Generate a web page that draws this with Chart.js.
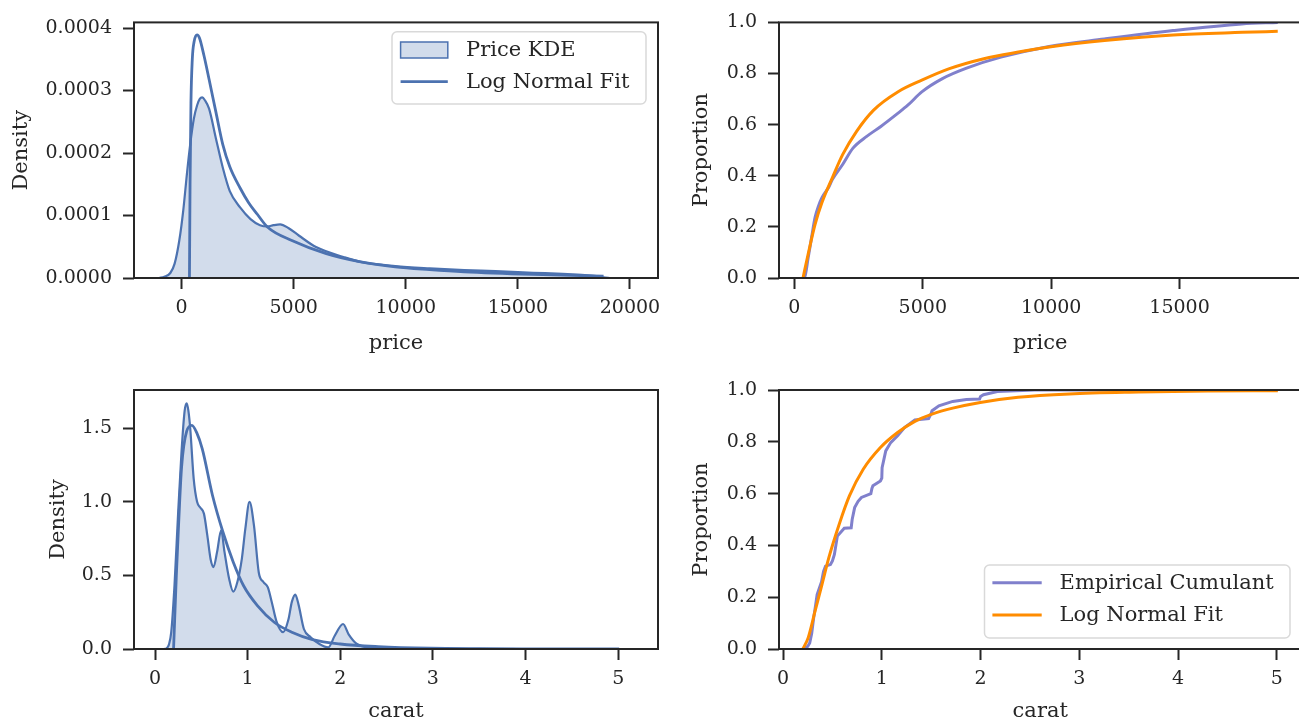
<!DOCTYPE html>
<html>
<head>
<meta charset="utf-8">
<script src="https://cdn.jsdelivr.net/npm/chart.js@4.4.1/dist/chart.umd.min.js"></script>
<style>
  html, body { margin: 0; padding: 0; background: #fff; overflow: hidden; }
  body { width: 1299px; height: 722px; position: relative; }
  .panel { position: absolute; }
</style>
</head>
<body>
<div class="panel" style="left:0;top:0;width:700px;height:361px"><canvas id="c1"></canvas></div>
<div class="panel" style="left:650px;top:0;width:670px;height:361px"><canvas id="c2"></canvas></div>
<div class="panel" style="left:0;top:361px;width:700px;height:366px"><canvas id="c3"></canvas></div>
<div class="panel" style="left:650px;top:361px;width:670px;height:366px"><canvas id="c4"></canvas></div>
<script>
// price density (KDE + log normal fit)
const priceKdeX = [-1000, -768, -500, -308, -100, 76, 250, 384, 550, 692, 820, 920, 1050, 1228, 1536, 1844, 2152, 2612, 3076, 3500, 3843, 4100, 4400, 4763, 5228, 5996, 7223, 7991, 9531, 11067, 12607, 14000, 15680, 17000, 17986, 18500, 18906, 19100];
const priceKdeY = [0, 0.000002, 0.000008, 0.000023, 0.00006, 0.000108, 0.00017, 0.000213, 0.000255, 0.000276, 0.000287, 0.000289, 0.000284, 0.000271, 0.000223, 0.000176, 0.000139, 0.000113, 0.0000943, 0.0000845, 0.0000825, 0.0000845, 0.0000858, 0.0000801, 0.000068, 0.0000495, 0.0000337, 0.0000258, 0.000019, 0.0000153, 0.0000126, 0.000011, 0.0000084, 0.0000065, 0.0000047, 0.000003, 0.0000005, 0];
const priceFitX = [353, 380, 420, 480, 560, 692, 800, 1000, 1228, 1536, 1844, 2152, 2612, 3000, 3380, 3843, 4920, 6455, 7991, 9531, 11067, 12607, 15680, 18823];
const priceFitY = [0, 0.00015, 0.00028, 0.00035, 0.000378, 0.000389, 0.000384, 0.000356, 0.000318, 0.000265, 0.000213, 0.000178, 0.000144, 0.00012, 0.000102, 0.0000811, 0.00006, 0.000039, 0.0000258, 0.0000179, 0.0000135, 0.00001, 0.0000058, 0.000003];

// price cumulative
const priceEcdfX = [326, 402, 537, 671, 805, 939, 1073, 1341, 1476, 1878, 2280, 2816, 3353, 4024, 4426, 4960, 5764, 6703, 8043, 9920, 12065, 14745, 17426, 18823];
const priceEcdfY = [0, 0.004, 0.08, 0.16, 0.237, 0.282, 0.314, 0.356, 0.385, 0.444, 0.508, 0.554, 0.592, 0.644, 0.677, 0.728, 0.78, 0.821, 0.864, 0.906, 0.935, 0.968, 0.994, 1.0];
const priceCdfX = [335, 536, 805, 1073, 1476, 1878, 2415, 3085, 4024, 4963, 6036, 7378, 8720, 10061, 12074, 14757, 17441, 18823];
const priceCdfY = [0, 0.094, 0.21, 0.295, 0.392, 0.4825, 0.573, 0.657, 0.728, 0.774, 0.819, 0.858, 0.884, 0.906, 0.929, 0.951, 0.961, 0.965];

// carat density
const caratKdeX = [0.10, 0.12, 0.15, 0.175, 0.21, 0.25, 0.286, 0.32, 0.342, 0.36, 0.38, 0.417, 0.454, 0.49, 0.528, 0.565, 0.60, 0.632, 0.67, 0.714, 0.75, 0.80, 0.845, 0.889, 0.9375, 0.975, 1.02, 1.068, 1.12, 1.17, 1.217, 1.26, 1.31, 1.384, 1.44, 1.477, 1.514, 1.55, 1.607, 1.68, 1.775, 1.87, 1.94, 2.03, 2.09, 2.18, 2.33, 2.6, 3.0, 4.0, 5.0];
const caratKdeY = [0, 0.003, 0.03, 0.114, 0.43, 0.93, 1.34, 1.62, 1.67, 1.62, 1.5, 1.16, 1.0, 0.96, 0.92, 0.77, 0.61, 0.557, 0.66, 0.807, 0.66, 0.477, 0.39, 0.455, 0.614, 0.818, 1.0, 0.84, 0.52, 0.455, 0.42, 0.32, 0.19, 0.114, 0.2, 0.32, 0.37, 0.30, 0.136, 0.08, 0.034, 0.011, 0.09, 0.17, 0.10, 0.034, 0.01, 0.003, 0.001, 0, 0];
const caratFitX = [0.2, 0.212, 0.23, 0.249, 0.286, 0.342, 0.398, 0.45, 0.51, 0.62, 0.733, 0.845, 0.956, 1.105, 1.29, 1.477, 1.7, 2.0, 2.41, 2.97, 3.5, 4.0, 5.01];
const caratFitY = [0, 0.2, 0.5, 0.77, 1.23, 1.48, 1.52, 1.47, 1.36, 1.045, 0.795, 0.59, 0.43, 0.295, 0.18, 0.114, 0.064, 0.034, 0.016, 0.005, 0.002, 0.001, 0];

// carat cumulative
const caratEcdfX = [0.2, 0.25, 0.27, 0.29, 0.31, 0.33, 0.345, 0.39, 0.41, 0.43, 0.48, 0.5, 0.52, 0.55, 0.62, 0.69, 0.70, 0.725, 0.76, 0.794, 0.889, 0.90, 0.91, 0.986, 1.0, 1.003, 1.04, 1.09, 1.16, 1.23, 1.335, 1.474, 1.5, 1.509, 1.578, 1.718, 1.857, 1.99, 2.0, 2.03, 2.17, 2.55, 5.01];
const caratEcdfY = [0, 0.01, 0.023, 0.06, 0.12, 0.17, 0.21, 0.26, 0.30, 0.32, 0.326, 0.34, 0.365, 0.436, 0.466, 0.468, 0.50, 0.546, 0.57, 0.585, 0.6, 0.62, 0.63, 0.649, 0.66, 0.70, 0.765, 0.797, 0.823, 0.855, 0.884, 0.89, 0.91, 0.92, 0.939, 0.956, 0.963, 0.965, 0.975, 0.982, 0.994, 1.0, 1.0];
const caratCdfX = [0.2, 0.254, 0.324, 0.394, 0.463, 0.568, 0.672, 0.812, 0.986, 1.16, 1.335, 1.509, 1.718, 1.997, 2.38, 2.9, 3.6, 4.3, 5.01];
const caratCdfY = [0, 0.043, 0.146, 0.249, 0.352, 0.481, 0.591, 0.694, 0.778, 0.836, 0.879, 0.907, 0.93, 0.952, 0.972, 0.985, 0.992, 0.996, 0.997];

// tick labels
const priceTicksLeft = [0, 5000, 10000, 15000, 20000];
const priceTicksRight = [0, 5000, 10000, 15000];
const caratTicks = [0, 1, 2, 3, 4, 5];
const priceDensityTicks = [0, 0.0001, 0.0002, 0.0003, 0.0004];
const caratDensityTicks = [0, 0.5, 1.0, 1.5];
const proportionTicks = [0, 0.2, 0.4, 0.6, 0.8, 1.0];

const INK = '#262626';
const BLUE = '#4c72b0';
const PURPLE = '#8080cc';
const ORANGE = '#ff8c00';
const FONT = 'DejaVu Serif';

Chart.defaults.font.family = FONT;
Chart.defaults.color = INK;

const pts = (xs, ys) => xs.map((x, i) => ({ x: x, y: ys[i] }));

// box round each axes
const spines = {
  id: 'spines',
  afterDraw(chart) {
    const { ctx, chartArea: a } = chart;
    ctx.save();
    ctx.strokeStyle = INK;
    ctx.lineWidth = 2;
    ctx.strokeRect(a.left, a.top, a.right - a.left, a.bottom - a.top);
    ctx.restore();
  }
};

// legend drawn inside the plot, matplotlib style
const boxLegend = {
  id: 'boxLegend',
  afterDatasetsDraw(chart, args, o) {
    if (!o.items) return;
    const ctx = chart.ctx;
    ctx.save();
    ctx.beginPath();
    ctx.roundRect(o.box[0], o.box[1], o.box[2], o.box[3], 5);
    ctx.fillStyle = 'rgba(255,255,255,0.8)';
    ctx.fill();
    ctx.strokeStyle = '#d9d9d9';
    ctx.lineWidth = 1.5;
    ctx.stroke();
    ctx.font = '21px "' + FONT + '"';
    ctx.textBaseline = 'middle';
    o.items.forEach((it, i) => {
      const ds = chart.data.datasets[it.ds];
      const y = o.rows[i];
      if (it.patch) {
        ctx.fillStyle = ds.backgroundColor;
        ctx.fillRect(o.x0, y - 8, o.x1 - o.x0, 16);
        ctx.strokeStyle = ds.borderColor;
        ctx.lineWidth = 1.5;
        ctx.strokeRect(o.x0, y - 8, o.x1 - o.x0, 16);
      } else {
        ctx.strokeStyle = ds.borderColor;
        ctx.lineWidth = ds.borderWidth;
        ctx.beginPath();
        ctx.moveTo(o.x0, y);
        ctx.lineTo(o.x1, y);
        ctx.stroke();
      }
      ctx.fillStyle = INK;
      ctx.fillText(ds.label, o.tx, y + 1);
    });
    ctx.restore();
  }
};

function scaleX(min, max, ticks, fmt, title, h, tpad) {
  return {
    type: 'linear', min: min, max: max,
    afterBuildTicks: s => { s.ticks = ticks.map(v => ({ value: v })); },
    afterFit: s => { s.height = h; },
    border: { display: false },
    grid: { drawOnChartArea: false, drawTicks: true, tickLength: 11, tickWidth: 2, tickColor: INK },
    ticks: { font: { size: 19 }, color: INK, padding: 8, maxRotation: 0, autoSkip: false, callback: fmt },
    title: { display: true, text: title, font: { size: 21 }, color: INK, padding: { top: 0, bottom: tpad } }
  };
}

function scaleY(min, max, ticks, fmt, title, w) {
  return {
    type: 'linear', min: min, max: max,
    afterBuildTicks: s => { s.ticks = ticks.map(v => ({ value: v })); },
    afterFit: s => { s.width = w; },
    border: { display: false },
    grid: { drawOnChartArea: false, drawTicks: true, tickLength: 11, tickWidth: 2, tickColor: INK },
    ticks: { font: { size: 19 }, color: INK, padding: 11, autoSkip: false, callback: fmt },
    title: { display: true, text: title, font: { size: 21 }, color: INK, padding: { top: 0, bottom: 0 } }
  };
}

function makeChart(id, datasets, scales, padding, legendOpts) {
  return new Chart(document.getElementById(id), {
    type: 'scatter',
    data: { datasets: datasets },
    options: {
      responsive: true,
      maintainAspectRatio: false,
      animation: false,
      layout: { padding: padding },
      scales: scales,
      plugins: { legend: { display: false }, tooltip: { enabled: false }, boxLegend: legendOpts || {} }
    },
    plugins: [spines, boxLegend]
  });
}

const fmtInt = v => String(v);
const fmt1 = v => v.toFixed(1);
const fmt4 = v => v.toFixed(4);

// top left: price density
makeChart('c1', [
  { label: 'Price KDE', data: pts(priceKdeX, priceKdeY), showLine: true, pointRadius: 0, borderColor: BLUE, borderWidth: 2.2, backgroundColor: 'rgba(76,114,176,0.25)', fill: 'origin', cubicInterpolationMode: 'monotone', order: 1 },
  { label: 'Log Normal Fit', data: pts(priceFitX, priceFitY), showLine: true, pointRadius: 0, borderColor: BLUE, borderWidth: 2.8, cubicInterpolationMode: 'monotone', order: 0 }
], {
  x: scaleX(-2120, 21250, priceTicksLeft, fmtInt, 'price', 83, 5),
  y: scaleY(0, 0.000409, priceDensityTicks, fmt4, 'Density', 125)
}, { left: 9, top: 19, right: 42, bottom: 0 }, {
  box: [392, 31.7, 254, 72.3], x0: 400.6, x1: 447.8, tx: 466, rows: [50, 81.7],
  items: [{ ds: 0, patch: true }, { ds: 1 }]
});

// top right: price cumulative
makeChart('c2', [
  { label: 'Empirical Cumulant', data: pts(priceEcdfX, priceEcdfY), showLine: true, pointRadius: 0, borderColor: PURPLE, borderWidth: 3, cubicInterpolationMode: 'monotone', order: 1 },
  { label: 'Log Normal Fit', data: pts(priceCdfX, priceCdfY), showLine: true, pointRadius: 0, borderColor: ORANGE, borderWidth: 3, cubicInterpolationMode: 'monotone', order: 0 }
], {
  x: scaleX(-600, 19748, priceTicksRight, fmtInt, 'price', 83, 5),
  y: scaleY(0, 1, proportionTicks, fmt1, 'Proportion', 90)
}, { left: 39, top: 19, right: 18.5, bottom: 0 });

// bottom left: carat density
makeChart('c3', [
  { label: 'Carat KDE', data: pts(caratKdeX, caratKdeY), showLine: true, pointRadius: 0, borderColor: BLUE, borderWidth: 2.2, backgroundColor: 'rgba(76,114,176,0.25)', fill: 'origin', cubicInterpolationMode: 'monotone', order: 1 },
  { label: 'Log Normal Fit', data: pts(caratFitX, caratFitY), showLine: true, pointRadius: 0, borderColor: BLUE, borderWidth: 2.8, cubicInterpolationMode: 'monotone', order: 0 }
], {
  x: scaleX(-0.227, 5.43, caratTicks, fmtInt, 'carat', 78, 2.4),
  y: scaleY(0, 1.76, caratDensityTicks, fmt1, 'Density', 87.6)
}, { left: 46.4, top: 29, right: 42, bottom: 0 });

// bottom right: carat cumulative
makeChart('c4', [
  { label: 'Empirical Cumulant', data: pts(caratEcdfX, caratEcdfY), showLine: true, pointRadius: 0, borderColor: PURPLE, borderWidth: 3, tension: 0, order: 1 },
  { label: 'Log Normal Fit', data: pts(caratCdfX, caratCdfY), showLine: true, pointRadius: 0, borderColor: ORANGE, borderWidth: 3, cubicInterpolationMode: 'monotone', order: 0 }
], {
  x: scaleX(-0.041, 5.25, caratTicks, fmtInt, 'carat', 78, 2.4),
  y: scaleY(0, 1, proportionTicks, fmt1, 'Proportion', 90)
}, { left: 39, top: 29, right: 18.5, bottom: 0 }, {
  box: [334.5, 204, 305.5, 73], x0: 342.4, x1: 391.7, tx: 409.6, rows: [221.7, 254],
  items: [{ ds: 0 }, { ds: 1 }]
});
</script>
</body>
</html>
